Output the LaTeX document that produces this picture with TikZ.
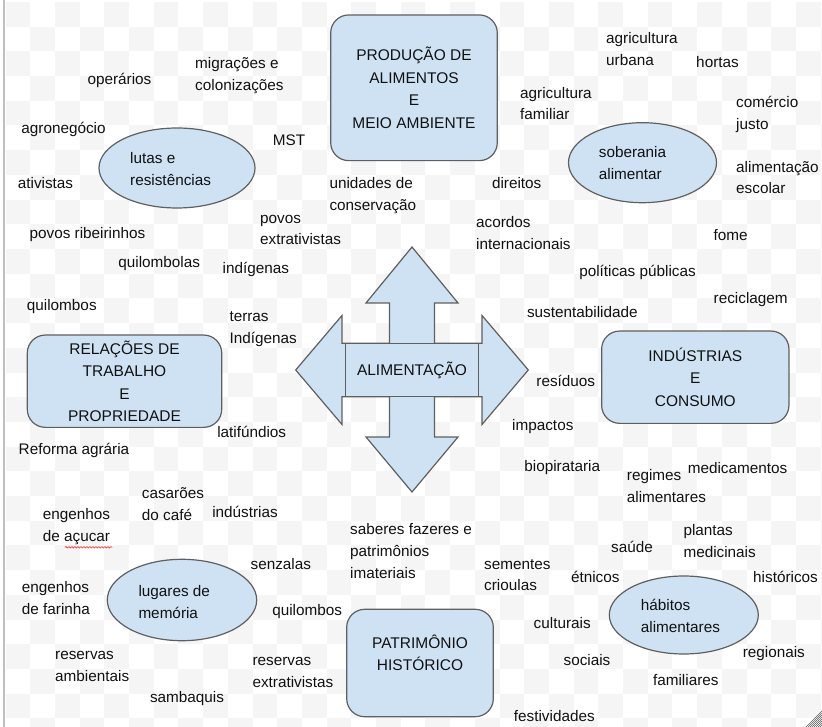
\documentclass[tikz,border=0pt]{standalone}
\usepackage{fontspec}
\setmainfont{Liberation Sans}
\usetikzlibrary{shapes.geometric,decorations.pathmorphing}
\definecolor{boxblue}{HTML}{CFE2F3}
\definecolor{edge}{HTML}{5F5F5F}
\definecolor{ink}{HTML}{111111}
\definecolor{checker}{HTML}{F5F5F5}
\definecolor{frame}{HTML}{BFBFBF}
\tikzset{
  word/.style={inner sep=0pt,text=ink,font=\fontsize{15.3}{21.7}\selectfont},
  words/.style={word,align=left,anchor=west},
  theme/.style={draw=edge,fill=boxblue,line width=1.2pt,rounded corners=18pt,inner sep=0pt,align=center,text=ink,font=\fontsize{15.5}{22.4}\selectfont},
  hub/.style={ellipse,draw=edge,fill=boxblue,line width=1.2pt,inner sep=0pt},
}
\begin{document}
\begin{tikzpicture}[x=1pt,y=-1pt]
\useasboundingbox (0,0) rectangle (822,727);
\begin{scope}
\clip (0,0) rectangle (822,727);
\foreach \j in {0,2,...,28} \foreach \i in {0,2,...,32} \fill[checker] (5.5+24.7*\i,2+24.7*\j) rectangle ++(24.7,24.7);
\foreach \j in {1,3,...,29} \foreach \i in {1,3,...,33} \fill[checker] (5.5+24.7*\i,2+24.7*\j) rectangle ++(24.7,24.7);
\draw[frame,line width=1.5pt] (4,0) -- (4,727);
\foreach \k in {0,...,7} \draw[edge,line width=0.6pt] (806+2*\k,727) -- (822,711+2*\k);
\end{scope}

\begin{scope}[shift={(412,370)}]
\draw[draw=edge,fill=boxblue,line width=1.2pt] (0,-123) -- (46,-67) -- (22.5,-67) -- (22.5,-26.7) -- (70,-26.7) -- (70,-54.5) -- (116.3,0) -- (70,54.5) -- (70,26.7) -- (22.5,26.7) -- (22.5,67) -- (46,67) -- (0,122) -- (-46,67) -- (-22.5,67) -- (-22.5,26.7) -- (-70,26.7) -- (-70,54.5) -- (-116.3,0) -- (-70,-54.5) -- (-70,-26.7) -- (-22.5,-26.7) -- (-22.5,-67) -- (-46,-67) -- cycle;
\end{scope}
\node[theme,rounded corners=0pt,minimum width=132.6pt,minimum height=53.4pt] (alim) at (412,370) {ALIMENTAÇÃO};

\node[theme,minimum width=166.6pt,minimum height=145.7pt] (producao) at (414,87.8) {PRODUÇÃO DE\\ALIMENTOS\\E\\MEIO AMBIENTE};
\node[theme,minimum width=194.4pt,minimum height=92.3pt] (relacoes) at (124.5,381.2) {RELAÇÕES DE\\TRABALHO\\E\\PROPRIEDADE};
\node[theme,minimum width=187.3pt,minimum height=92.3pt] (industrias) at (695.3,377.2) {INDÚSTRIAS\\E\\CONSUMO};
\node[theme,minimum width=146.6pt,minimum height=107.4pt] (patrimonio) at (420,663) {};
\node[word,align=center,font=\fontsize{15.5}{21.6}\selectfont] (patrimonioT) at (420,652.5) {PATRIMÔNIO\\HISTÓRICO};

\node[hub,minimum width=156pt,minimum height=80pt] (lutas) at (177,168) {};
\node[words] (lutasT) at (130,169) {lutas e\\resistências};
\node[hub,minimum width=148pt,minimum height=80pt] (soberania) at (642.5,162.7) {};
\node[words] (soberaniaT) at (598.7,163.3) {soberania\\alimentar};
\node[hub,minimum width=149.4pt,minimum height=81.4pt] (lugares) at (182,600) {};
\node[words] (lugaresT) at (138.3,601.7) {lugares de\\memória};
\node[hub,minimum width=149pt,minimum height=78pt] (habitos) at (683.8,615) {};
\node[words] (habitosT) at (640.7,615.8) {hábitos\\alimentares};

\node[word] (operarios) at (119.5,80) {operários};
\node[word] (agronegocio) at (63.5,129) {agronegócio};
\node[word] (mst) at (289,140) {MST};
\node[word] (ativistas) at (45.5,183) {ativistas};
\node[word] (ribeirinhos) at (87.5,235) {povos ribeirinhos};
\node[word] (direitos) at (516.7,182.7) {direitos};
\node[word] (hortas) at (717.5,62) {hortas};
\node[word] (fome) at (730.5,235.3) {fome};
\node[word] (quilombolas) at (159.2,263.3) {quilombolas};
\node[word] (indigenas) at (255.8,269.3) {indígenas};
\node[word] (quilombosA) at (61.8,306.7) {quilombos};
\node[word] (politicas) at (637.5,272.7) {políticas públicas};
\node[word] (reciclagem) at (750.7,300) {reciclagem};
\node[word] (sustent) at (582.3,311.7) {sustentabilidade};
\node[word] (residuos) at (565.8,380.7) {resíduos};
\node[word] (latifundios) at (251.7,432.3) {latifúndios};
\node[word] (reforma) at (74,450) {Reforma agrária};
\node[word] (impactos) at (542.8,426.7) {impactos};
\node[word] (biopirataria) at (562.2,467.7) {biopirataria};
\node[word] (medicamentos) at (737.5,467.7) {medicamentos};
\node[word] (industriasW) at (245,512.3) {indústrias};
\node[word] (saude) at (632,547.3) {saúde};
\node[word] (senzalas) at (280.8,564.3) {senzalas};
\node[word] (etnicos) at (595.3,577.3) {étnicos};
\node[word] (historicos) at (785.5,577.3) {históricos};
\node[word] (quilombosB) at (307.2,611.7) {quilombos};
\node[word] (culturais) at (562.2,622.7) {culturais};
\node[word] (regionais) at (773.8,653.3) {regionais};
\node[word] (sociais) at (587,660) {sociais};
\node[word] (familiares) at (685.8,680) {familiares};
\node[word] (sambaquis) at (187,698.3) {sambaquis};
\node[word] (festividades) at (554.3,715.7) {festividades};

\node[words] (migracoes) at (195,75.5) {migrações e\\colonizações};
\node[words] (extrativistas) at (260,230) {povos\\extrativistas};
\node[words] (agriUrbana) at (606,49.3) {agricultura\\urbana};
\node[words] (agriFamiliar) at (520,103.5) {agricultura\\familiar};
\node[words] (comercio) at (736,114.2) {comércio\\justo};
\node[words] (alimEscolar) at (736,177.5) {alimentação\\escolar};
\node[words] (unidades) at (329.3,195.8) {unidades de\\conservação};
\node[words] (acordos) at (476,232.7) {acordos\\internacionais};
\node[words] (terras) at (229.3,329.2) {terras\\Indígenas};
\node[words] (casaroes) at (141.7,504.2) {casarões\\do café};
\node[words] (engAcucar) at (42.7,526.5) {engenhos\\de açucar};
\node[words] (saberes) at (350,551) {saberes fazeres e\\patrimônios\\imateriais};
\node[words] (regimes) at (626.7,486.3) {regimes\\alimentares};
\node[words] (plantas) at (683.3,540.8) {plantas\\medicinais};
\node[words] (sementes) at (484,575) {sementes\\crioulas};
\node[words] (engFarinha) at (21.7,598) {engenhos\\de farinha};
\node[words] (resAmb) at (55,666.7) {reservas\\ambientais};
\node[words] (resExtr) at (252.3,672.8) {reservas\\extrativistas};
\draw[red!80,line width=0.6pt,decorate,decoration={snake,amplitude=0.8pt,segment length=3pt}] (65,547.3) -- (112.3,547.3);
\end{tikzpicture}
\end{document}
